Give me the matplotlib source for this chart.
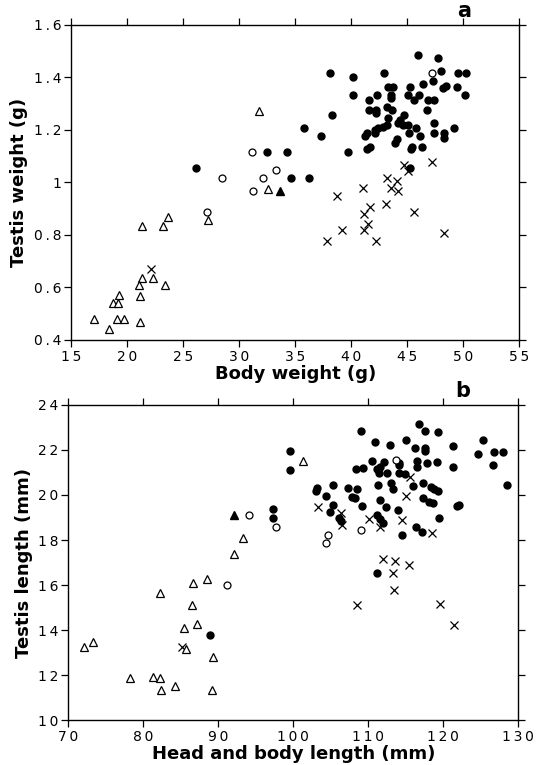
import numpy as np
import matplotlib
matplotlib.use("Agg")
import matplotlib.pyplot as plt
from matplotlib.ticker import FuncFormatter

plt.rcParams['font.family'] = ['DejaVu Sans']

# panel a: body weight (g) vs testis weight (g)
a_filled_x = [32.45, 34.26, 26.13, 34.6, 36.25, 45.93, 47.74, 38.1, 40.12, 42.9, 48.04, 49.55, 50.24, 47.32,
              46.43, 43.25, 43.7, 45.24, 48.43, 48.2, 49.47, 40.12, 42.3, 43.55, 43.55, 45.1, 46.07, 45.63,
              41.58, 46.88, 47.36, 50.15, 41.55, 42.2, 42.2, 43.16, 43.66, 46.76, 38.3, 44.7, 43.3, 44.35,
              44.2, 44.64, 45.09, 45.78, 43.2, 42.8, 42.4, 42.1, 47.4, 35.75, 49.14, 37.3, 41.2, 41.4, 42.1,
              45.15, 46.13, 47.36, 48.28, 48.28, 44.1, 43.9, 41.67, 41.43, 45.4, 45.3, 46.3, 39.73, 45.2]
a_filled_y = [1.116, 1.116, 1.056, 1.016, 1.016, 1.486, 1.475, 1.416, 1.403, 1.416, 1.425, 1.416, 1.416, 1.387,
              1.374, 1.365, 1.365, 1.365, 1.368, 1.359, 1.365, 1.334, 1.334, 1.334, 1.323, 1.334, 1.333, 1.314,
              1.314, 1.314, 1.314, 1.334, 1.276, 1.276, 1.264, 1.286, 1.276, 1.276, 1.257, 1.257, 1.245, 1.238,
              1.226, 1.219, 1.219, 1.206, 1.219, 1.213, 1.206, 1.2, 1.226, 1.208, 1.206, 1.177, 1.177, 1.187, 1.187,
              1.187, 1.177, 1.187, 1.187, 1.168, 1.165, 1.149, 1.136, 1.128, 1.136, 1.128, 1.136, 1.116, 1.056]
a_open_x = [31.13, 33.25, 28.46, 32.15, 31.2, 27.1, 47.18]
a_open_y = [1.116, 1.046, 1.016, 1.016, 0.968, 0.889, 1.418]
a_tri_x = [31.8, 32.6, 27.2, 21.29, 23.16, 23.66, 21.34, 22.32, 21.07, 23.39, 19.29, 21.1, 18.7, 19.14,
           17.03, 19.05, 19.73, 21.13, 18.34]
a_tri_y = [1.274, 0.975, 0.857, 0.835, 0.835, 0.867, 0.637, 0.637, 0.608, 0.608, 0.570, 0.569, 0.540, 0.540,
           0.479, 0.479, 0.479, 0.469, 0.441]
a_tri_f_x = [33.6]
a_tri_f_y = [0.968]
a_cross_x = [22.12, 44.7, 45.1, 47.2, 43.2, 44.05, 41.07, 43.5, 44.2, 38.72, 41.7, 43.13, 41.16, 45.6,
             41.5, 41.16, 39.2, 48.25, 37.86, 42.23]
a_cross_y = [0.669, 1.067, 1.045, 1.077, 1.016, 1.007, 0.978, 0.978, 0.968, 0.950, 0.908, 0.918, 0.879, 0.889,
             0.841, 0.819, 0.819, 0.809, 0.778, 0.778]

# panel b: head and body length (mm) vs testis length (mm)
b_filled_x = [99.56, 99.56, 97.25, 97.25, 88.9, 111.2, 108.99, 110.9, 112.9, 114.99, 116.7, 117.56, 119.3,
              116.23, 117.6, 117.6, 121.3, 125.25, 124.6, 126.76, 127.9, 126.6, 128.54, 121.3, 110.45, 112.14,
              114.1, 114.1, 116.5, 116.5, 117.8, 119.2, 111.56, 111.2, 111.4, 112.5, 108.3, 109.34, 114.1, 114.9,
              111.25, 112.98, 113.34, 115.9, 117.25, 118.3, 118.8, 119.3, 105.25, 107.25, 108.5, 103.2, 103.03,
              104.36, 107.8, 108.2, 111.5, 117.3, 118.05, 118.6, 121.8, 122.1, 105.25, 109.2, 112.3, 104.9,
              106.1, 106.4, 113.9, 111.2, 111.5, 111.9, 119.4, 116.36, 117.1, 114.5]
b_filled_y = [21.96, 21.1, 19.36, 18.96, 13.76, 16.52, 22.86, 22.35, 22.2, 22.46, 23.14, 22.84, 22.8,
              22.07, 22.07, 21.95, 22.18, 22.44, 21.82, 21.93, 21.93, 21.33, 20.44, 21.26, 21.51, 21.48,
              21.44, 21.33, 21.51, 21.26, 21.44, 21.45, 21.26, 21.14, 20.96, 20.99, 21.14, 21.18, 20.96, 20.92,
              20.44, 20.52, 20.25, 20.4, 20.55, 20.34, 20.25, 20.18, 20.44, 20.32, 20.25, 20.3, 20.18,
              19.95, 19.93, 19.85, 19.78, 19.85, 19.7, 19.63, 19.51, 19.55, 19.55, 19.53, 19.45, 19.26,
              18.96, 18.86, 19.33, 19.11, 18.92, 18.77, 18.96, 18.59, 18.37, 18.22]
b_open_x = [97.7, 94.13, 91.16, 113.7, 108.99, 104.67, 104.36]
b_open_y = [18.56, 19.11, 16.01, 21.55, 18.44, 18.22, 17.88]
b_tri_x = [93.25, 92.13, 88.45, 86.59, 82.27, 86.5, 87.12, 85.47, 73.25, 72.13, 85.65, 89.25, 78.27, 81.29,
           82.23, 84.27, 82.32, 89.12, 101.25]
b_tri_y = [18.07, 17.38, 16.27, 16.1, 15.66, 15.1, 14.27, 14.09, 13.45, 13.23, 13.14, 12.81, 11.85, 11.9,
           11.87, 11.52, 11.32, 11.33, 21.52]
b_tri_f_x = [92.13]
b_tri_f_y = [19.11]
b_cross_x = [85.1, 113.25, 113.47, 108.5, 119.5, 121.4, 112, 113.56, 115.47, 115.5, 115.03, 103.25, 106.3,
             106.5, 110.1, 111.56, 114.45, 118.54]
b_cross_y = [13.26, 16.52, 15.78, 15.11, 15.16, 14.22, 17.16, 17.08, 16.89, 20.81, 19.95, 19.45, 19.21,
             18.67, 18.92, 18.59, 18.89, 18.3]


def spaced(v, pos):
    s = ('%g' % round(v, 2))
    return '\u2009'.join(s)


def draw(ax, fx, fy, ox, oy, tx, ty, tfx, tfy, cx, cy):
    ax.plot(cx, cy, 'x', color='black', ms=5.5, mew=0.9, ls='none')
    ax.plot(tx, ty, '^', mfc='white', mec='black', ms=5.5, mew=0.9, ls='none')
    ax.plot(tfx, tfy, '^', color='black', ms=5.5, ls='none')
    ax.plot(fx, fy, 'o', color='black', ms=5, ls='none')
    ax.plot(ox, oy, 'o', mfc='white', mec='black', ms=5, mew=0.9, ls='none')
    ax.tick_params(direction='out', length=5, width=0.9, top=True, right=True,
                   labelsize=10, pad=2)
    for sp in ax.spines.values():
        sp.set_linewidth(1.0)
    ax.xaxis.set_major_formatter(FuncFormatter(spaced))
    ax.yaxis.set_major_formatter(FuncFormatter(spaced))


fig = plt.figure(figsize=(5.36, 7.65), dpi=100)
ax1 = fig.add_axes([0.133, 0.5556, 0.836, 0.4118])
ax2 = fig.add_axes([0.1274, 0.0588, 0.8396, 0.4118])

draw(ax1, a_filled_x, a_filled_y, a_open_x, a_open_y, a_tri_x, a_tri_y,
     a_tri_f_x, a_tri_f_y, a_cross_x, a_cross_y)
ax1.set_xlim(15, 55)
ax1.set_ylim(0.4, 1.6)
ax1.set_xticks(np.arange(15, 56, 5))
ax1.set_yticks([0.4, 0.6, 0.8, 1.0, 1.2, 1.4, 1.6])
ax1.set_xlabel('Body weight (g)', fontsize=13, fontweight='bold', labelpad=1)
ax1.set_ylabel('Testis weight (g)', fontsize=13, fontweight='bold', labelpad=4)
ax1.text(0.877, 1.012, 'a', transform=ax1.transAxes, ha='center', va='bottom',
         fontsize=15, fontweight='bold')

draw(ax2, b_filled_x, b_filled_y, b_open_x, b_open_y, b_tri_x, b_tri_y,
     b_tri_f_x, b_tri_f_y, b_cross_x, b_cross_y)
ax2.set_xlim(70, 130)
ax2.set_ylim(10, 24)
ax2.set_xticks(np.arange(70, 131, 10))
ax2.set_yticks(np.arange(10, 25, 2))
ax2.set_xlabel('Head and body length (mm)', fontsize=13, fontweight='bold', labelpad=1)
ax2.set_ylabel('Testis length (mm)', fontsize=13, fontweight='bold', labelpad=4)
ax2.text(0.877, 1.012, 'b', transform=ax2.transAxes, ha='center', va='bottom',
         fontsize=15, fontweight='bold')

plt.savefig('out.png', dpi=100)
